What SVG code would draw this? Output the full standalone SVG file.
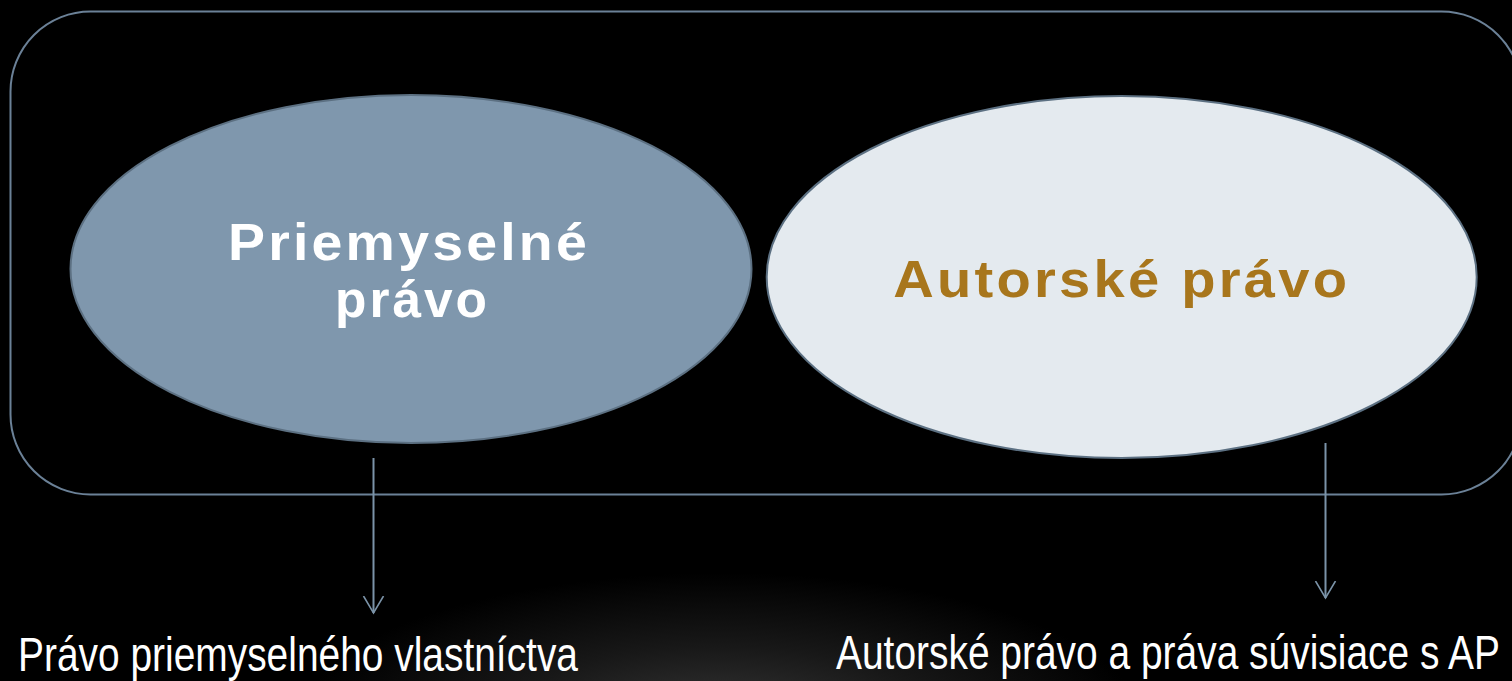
<svg xmlns="http://www.w3.org/2000/svg" width="1512" height="681" viewBox="0 0 1512 681">
  <defs>
    <radialGradient id="glow" cx="720" cy="720" r="420" gradientUnits="userSpaceOnUse" gradientTransform="translate(720 720) scale(1 0.35) translate(-720 -720)">
      <stop offset="0" stop-color="#363636"/>
      <stop offset="0.5" stop-color="#181818"/>
      <stop offset="1" stop-color="#000000"/>
    </radialGradient>
    <marker id="arrow" markerWidth="20" markerHeight="24" refX="17" refY="11" orient="auto" markerUnits="userSpaceOnUse" viewBox="0 0 20 22">
      <path d="M0 1 L17 11 L0 21" fill="none" stroke="#7b93a8" stroke-width="1.6"/>
    </marker>
    <style>
      .frame { fill: none; stroke: #6b8197; stroke-width: 2; }
      .conn { stroke: #7b93a8; stroke-width: 2; fill: none; }
      .title { font-family: "Liberation Sans", Arial, sans-serif; font-weight: bold; font-size: 52px; text-anchor: middle; letter-spacing: 3px; }
      .label { font-family: "Liberation Sans Narrow", "Arial Narrow", "Liberation Sans", sans-serif; font-size: 49px; fill: #ffffff; }
    </style>
  </defs>
  <rect x="0" y="0" width="1512" height="681" fill="#000000"/>
  <rect x="0" y="500" width="1512" height="181" fill="url(#glow)"/>

  <g id="frame">
    <rect class="frame" x="10.5" y="11.5" width="1511" height="483" rx="80" ry="80"/>
  </g>

  <g id="node-priemyselne">
    <ellipse cx="411" cy="269" rx="340.5" ry="174" fill="#7f97ad" stroke="#5c7082" stroke-width="2"/>
    <text class="title" fill="#ffffff" x="409" y="260" textLength="362" lengthAdjust="spacingAndGlyphs">Priemyselné</text>
    <text class="title" fill="#ffffff" x="412.5" y="317" textLength="155" lengthAdjust="spacingAndGlyphs">právo</text>
  </g>

  <g id="node-autorske">
    <ellipse cx="1121.7" cy="277" rx="355" ry="181" fill="#e4eaef" stroke="#5c7082" stroke-width="2"/>
    <text class="title" fill="#a8761c" x="1121.7" y="297" textLength="457" lengthAdjust="spacingAndGlyphs">Autorské právo</text>
  </g>

  <g id="connectors">
    <line class="conn" x1="373.5" y1="458" x2="373.5" y2="613" marker-end="url(#arrow)"/>
    <line class="conn" x1="1325.5" y1="443" x2="1325.5" y2="598" marker-end="url(#arrow)"/>
  </g>

  <g id="label-left">
    <text class="label" x="18" y="671" textLength="560" lengthAdjust="spacingAndGlyphs">Právo priemyselného vlastníctva</text>
  </g>
  <g id="label-right">
    <text class="label" x="836" y="669" textLength="664" lengthAdjust="spacingAndGlyphs">Autorské právo a práva súvisiace s AP</text>
  </g>
</svg>
